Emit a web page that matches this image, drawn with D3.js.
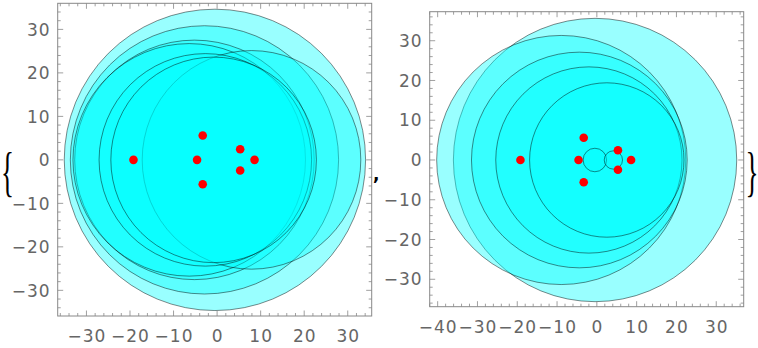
<!DOCTYPE html>
<html><head><meta charset="utf-8">
<script src="https://cdn.jsdelivr.net/npm/d3@7"></script>
<style>body{margin:0;background:#fff}svg{display:block}</style>
</head><body>
<script>
// ---- data ----
const pointX = [-19.2, -4.6, -3.3, -3.3, 5.3, 5.3, 8.6];
const pointY = [0, 0, 5.6, -5.6, 2.45, -2.45, 0];

const leftCX = [-0.5, -2.9, -5.2, -6.4, 7.9, -2.7, -0.8];
const leftCY = [0, 0, 0, 0, 0, 0, 0];
const leftR  = [34.6, 30.8, 27.5, 26.7, 25.1, 24.4, 23.6];

const rightCX = [-0.45, -8.95, -4.4, -2.0, 2.5, -0.5, 4.15];
const rightCY = [0, 0, 0, 0, 0, 0, 0];
const rightR  = [35.6, 31.3, 27.1, 23.4, 19.4, 2.95, 2.3];

const leftXDomain = [-36.6, 35.5], leftYDomain = [-35.9, 36.0];
const rightXDomain = [-42.0, 36.9], rightYDomain = [-36.9, 37.3];
const leftXTicks = [-30, -20, -10, 0, 10, 20, 30];
const leftYTicks = [-30, -20, -10, 0, 10, 20, 30];
const rightXTicks = [-40, -30, -20, -10, 0, 10, 20, 30];
const rightYTicks = [-30, -20, -10, 0, 10, 20, 30];

const W = 758, H = 348;
const svg = d3.select("body").append("svg").attr("width", W).attr("height", H);
const fmt = v => (v < 0 ? "\u2212" + Math.abs(v) : String(v));

function panel(box, xd, yd, xt, yt, cx, cy, r) {
  const x = d3.scaleLinear().domain(xd).range([box.x0, box.x1]);
  const y = d3.scaleLinear().domain(yd).range([box.y1, box.y0]);
  const g = svg.append("g");
  const clipId = "clip" + Math.round(box.x0);
  g.append("clipPath").attr("id", clipId).append("rect")
    .attr("x", box.x0).attr("y", box.y0).attr("width", box.x1 - box.x0).attr("height", box.y1 - box.y0);
  const pg = g.append("g").attr("clip-path", `url(#${clipId})`);
  const circ = d3.range(cx.length).map(i => ({cx: cx[i], cy: cy[i], r: r[i]}));
  pg.selectAll("circle.c").data(circ).join("circle").attr("class", "c")
    .attr("cx", d => x(d.cx)).attr("cy", d => y(d.cy))
    .attr("r", d => x(d.r) - x(0))
    .attr("fill", "rgba(0,255,255,0.4)")
    .attr("stroke", "rgba(0,0,0,0.55)").attr("stroke-width", 0.85);
  const pts = d3.range(pointX.length).map(i => ({x: pointX[i], y: pointY[i]}));
  pg.selectAll("circle.p").data(pts).join("circle").attr("class", "p")
    .attr("cx", d => x(d.x)).attr("cy", d => y(d.y)).attr("r", 4.3).attr("fill", "#ff0000");

  // frame ticks
  const frameCol = "#888";
  const major = 5.5, minor = 3;
  const minorX = d3.range(Math.ceil(xd[0] / 2) * 2, xd[1], 2);
  const minorY = d3.range(Math.ceil(yd[0] / 2) * 2, yd[1], 2);
  const tg = g.append("g").attr("stroke", frameCol).attr("stroke-width", 0.8);
  minorX.forEach(v => {
    const L = (v % 10 === 0) ? major : minor;
    tg.append("line").attr("x1", x(v)).attr("x2", x(v)).attr("y1", box.y1).attr("y2", box.y1 - L);
    tg.append("line").attr("x1", x(v)).attr("x2", x(v)).attr("y1", box.y0).attr("y2", box.y0 + L);
  });
  minorY.forEach(v => {
    const L = (v % 10 === 0) ? major : minor;
    tg.append("line").attr("y1", y(v)).attr("y2", y(v)).attr("x1", box.x0).attr("x2", box.x0 + L);
    tg.append("line").attr("y1", y(v)).attr("y2", y(v)).attr("x1", box.x1).attr("x2", box.x1 - L);
  });
  g.append("rect").attr("x", box.x0).attr("y", box.y0)
    .attr("width", box.x1 - box.x0).attr("height", box.y1 - box.y0)
    .attr("fill", "none").attr("stroke", frameCol).attr("stroke-width", 1);

  const ff = "DejaVu Sans, sans-serif", fs = "17px", fc = "#666";
  const xl = g.append("g");
  xl.selectAll("text").data(xt).join("text")
    .attr("x", d => x(d) + 0.5).attr("y", box.y1 + 26).attr("text-anchor", "middle")
    .attr("font-family", ff).attr("font-size", fs).attr("fill", fc)
    .attr("letter-spacing", "1px")
    .text(fmt);
  const yl = g.append("g");
  yl.selectAll("text").data(yt).join("text")
    .attr("x", box.x0 - 7).attr("y", d => y(d) + 6.2).attr("text-anchor", "end")
    .attr("font-family", ff).attr("font-size", fs).attr("fill", fc)
    .attr("letter-spacing", "1px")
    .text(fmt);
}

panel({x0: 57.7, x1: 371.7, y0: 3.3, y1: 316}, leftXDomain, leftYDomain, leftXTicks, leftYTicks, leftCX, leftCY, leftR);
panel({x0: 429.7, x1: 743.7, y0: 11.7, y1: 306.7}, rightXDomain, rightYDomain, rightXTicks, rightYTicks, rightCX, rightCY, rightR);

// braces and comma
svg.append("text").attr("transform", "translate(1,190) scale(0.5,1)")
  .attr("font-family", "Liberation Serif, serif").attr("font-size", "54px").attr("fill", "#000").text("{");
svg.append("text").attr("transform", "translate(745.5,190) scale(0.5,1)")
  .attr("font-family", "Liberation Serif, serif").attr("font-size", "54px").attr("fill", "#000").text("}");
svg.append("text").attr("x", 373).attr("y", 180)
  .attr("font-family", "DejaVu Sans, sans-serif").attr("font-size", "17px").attr("font-weight", "bold").attr("fill", "#000").text(",");
</script>
</body></html>
